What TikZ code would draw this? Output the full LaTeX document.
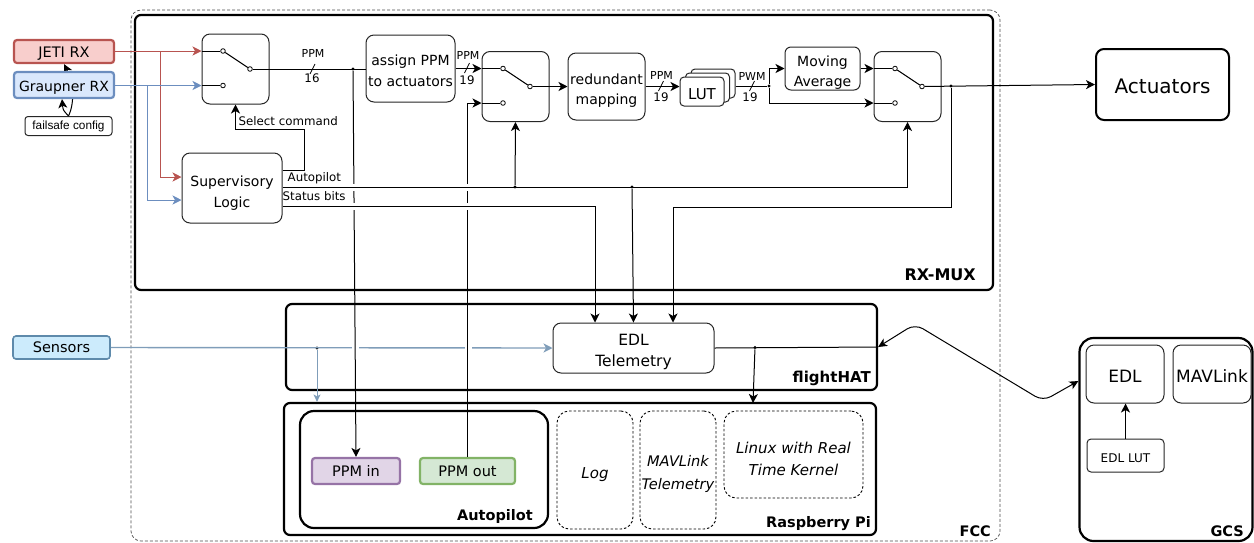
\documentclass[tikz,border=0pt]{standalone}
\usepackage{fontspec}
\setmainfont{DejaVu Sans}
\newfontfamily\arialfont{Liberation Sans}
\usetikzlibrary{arrows.meta,positioning}
\definecolor{jetiFill}{HTML}{F8CECC}
\definecolor{jetiLine}{HTML}{B85450}
\definecolor{graupFill}{HTML}{DAE8FC}
\definecolor{graupLine}{HTML}{6C8EBF}
\definecolor{sensFill}{HTML}{CCEBFC}
\definecolor{sensEdge}{HTML}{5E8AAB}
\definecolor{sensLine}{HTML}{7F9DB9}
\definecolor{pinFill}{HTML}{E1D5E7}
\definecolor{pinLine}{HTML}{9673A6}
\definecolor{poutFill}{HTML}{D5E8D4}
\definecolor{poutLine}{HTML}{82B366}
\def\fsz#1#2{\fontsize{#1}{#2}\selectfont}
\def\dn#1{\rule{0pt}{#1pt}}
\tikzset{
  tip/.style={-{Stealth[length=9pt,width=9pt,inset=2.5pt]}},
  smalltip/.style={-{Stealth[length=7.5pt,width=7pt,inset=2pt]}},
  bothtip/.style={{Stealth[length=9pt,width=8.5pt,inset=2.5pt]}-{Stealth[length=9pt,width=8.5pt,inset=2.5pt]}},
  wire/.style={line width=1pt,black},
  blockbox/.style={draw=black!85,fill=white,line width=1pt,rounded corners=8pt,inner sep=0pt,align=center},
  framebox/.style={draw=black,line width=2.2pt,rounded corners=6pt,inner sep=0pt},
  softbox/.style={draw=black,dash pattern=on 2.5pt off 2pt,line width=0.9pt,rounded corners=12pt,inner sep=0pt,align=center,font=\fsz{15}{22}\itshape},
  portbox/.style={line width=2.2pt,rounded corners=3pt,inner sep=0pt,font=\fsz{14.5}{18}},
  grouptext/.style={inner sep=0pt,anchor=south east,font=\fsz{14.5}{18}\bfseries},
  sizetext/.style={inner sep=0pt,font=\fsz{11}{13}},
  bustext/.style={inner sep=0pt,font=\fsz{11.8}{14}},
  contact/.style={circle,draw=black,fill=white,line width=0.8pt,inner sep=0pt,minimum size=4.6pt},
  junction/.style={circle,fill=black,inner sep=0pt,minimum size=3.4pt},
  gapline/.style={draw=white,line width=7pt},
}
\def\Switch#1#2#3{
    \node[blockbox,minimum width=67pt,minimum height=70pt] (#1) at (#2,#3) {};
    \node[contact] (#1-a) at ([shift={(-12.5,-18)}]#1.center) {};
    \node[contact] (#1-b) at ([shift={(-12.5,16.5)}]#1.center) {};
    \node[contact] (#1-c) at ([shift={(14.5,0)}]#1.center) {};
    \draw[wire] (#1-a) -- (#1-c);
}
\def\Tick#1#2{
    \draw[wire,line width=0.8pt] (#1-2.5,#2+5) -- (#1+2.5,#2-5);
}
\begin{document}
\begin{tikzpicture}[x=1pt,y=-1pt]
    \useasboundingbox (0,0) rectangle (1254,542);

    % containers
    \node[draw=black!70,dash pattern=on 3pt off 2pt,line width=0.7pt,rounded corners=10pt,minimum width=869pt,minimum height=531pt] (fcc) at (565.5,275.5) {};
    \node[framebox,minimum width=858pt,minimum height=275pt] (rxmux) at (564,152.5) {};
    \node[framebox,minimum width=591pt,minimum height=86pt] (flighthat) at (581.5,347) {};
    \node[framebox,minimum width=592pt,minimum height=132pt] (rpi) at (580,469) {};
    \node[framebox,rounded corners=14pt,minimum width=248pt,minimum height=117pt] (autopilot) at (424,469.5) {};
    \node[framebox,rounded corners=14pt,minimum width=173pt,minimum height=203pt] (gcs) at (1166,439.5) {};
    \node[grouptext] (rxmuxtext) at (976,281) {\fsz{16}{18}RX-MUX};
    \node[grouptext] (hattext) at (871,386) {\fsz{15}{18}flightHAT};
    \node[grouptext] (rpitext) at (871,531) {Raspberry Pi};
    \node[grouptext] (autotext) at (533,524) {Autopilot};
    \node[grouptext] (fcctext) at (991,537) {FCC};
    \node[grouptext] (gcstext) at (1244,537) {GCS};

    % blocks
    \Switch{swa}{235.5}{69}
    \Switch{swb}{515.5}{86.5}
    \Switch{swc}{907.5}{86.5}
    \node[blockbox,minimum width=100pt,minimum height=70pt,font=\fsz{14}{21}] (sup) at (232,188) {\dn{20.4}Supervisory\\Logic};
    \node[blockbox,minimum width=89pt,minimum height=67pt,font=\fsz{14}{21}] (assign) at (410.5,68.5) {\dn{15}assign PPM\\to actuators};
    \node[blockbox,minimum width=77pt,minimum height=67pt,font=\fsz{14}{20}] (redund) at (606.5,86.5) {\dn{18.6}redundant\\mapping};
    \node[blockbox,rounded corners=4pt,minimum width=44pt,minimum height=29pt] (lutc) at (713,83.5) {};
    \node[blockbox,rounded corners=4pt,minimum width=44pt,minimum height=29pt] (lutb) at (707.5,87.5) {};
    \node[blockbox,rounded corners=4pt,minimum width=44pt,minimum height=29pt,font=\fsz{15}{18}] (luta) at (702,91.5) {\dn{15.5}LUT};
    \node[blockbox,rounded corners=6pt,minimum width=75pt,minimum height=43pt,font=\fsz{14}{20}] (movavg) at (822.5,68.5) {\dn{18.2}Moving\\Average};
    \node[blockbox,draw=black,line width=2pt,minimum width=133pt,minimum height=71pt,font=\fsz{20}{24}] (act) at (1162.5,84.5) {\dn{19}Actuators};
    \node[blockbox,minimum width=161pt,minimum height=50pt,font=\fsz{15.5}{21}] (edl) at (633.5,348) {\dn{19.4}EDL\\Telemetry};
    \node[portbox,draw=pinLine,fill=pinFill,minimum width=88pt,minimum height=26pt] (pin) at (356,471) {PPM in};
    \node[portbox,draw=poutLine,fill=poutFill,minimum width=95pt,minimum height=26pt] (pout) at (467.5,471) {PPM out};
    \node[softbox,minimum width=76pt,minimum height=118pt] (log) at (595,470) {\dn{21}Log};
    \node[softbox,minimum width=76pt,minimum height=118pt,font=\fsz{14.6}{23}\itshape] (mavtel) at (678,470) {\dn{19.7}MAVLink\\Telemetry};
    \node[softbox,minimum width=139pt,minimum height=87pt] (linux) at (793.5,454.5) {\dn{19.5}Linux with Real\\Time Kernel};
    \node[blockbox,minimum width=78pt,minimum height=58pt,font=\fsz{17}{20}] (edlg) at (1125,374) {\dn{16.5}EDL};
    \node[blockbox,minimum width=78pt,minimum height=58pt,font=\fsz{17}{20}] (mavg) at (1212,374) {\dn{17}MAVLink};
    \node[blockbox,rounded corners=4pt,minimum width=77pt,minimum height=33pt,font=\fsz{12}{14}] (edllut) at (1125.5,455.5) {\dn{14.5}EDL LUT};

    % receivers
    \node[portbox,draw=jetiLine,fill=jetiFill,minimum width=100pt,minimum height=23pt] (jeti) at (64,51.5) {\dn{15.5}JETI RX};
    \node[blockbox,rounded corners=3pt,minimum width=87pt,minimum height=19pt,font=\arialfont\fsz{11.8}{14}] (fsafe) at (68.5,126) {failsafe config};
    \draw[wire,tip] (fsafe.north) .. controls (76,100) and (72,80) .. (jeti.south);
    \node[portbox,draw=graupLine,fill=graupFill,minimum width=100pt,minimum height=26pt,font=\fsz{14}{18}] (graup) at (64,85) {\dn{15.5}Graupner RX};
    \draw[wire,tip] (fsafe.north) .. controls (63,110) .. ([xshift=-2pt]graup.south);
    \node[portbox,draw=sensEdge,line width=1.6pt,fill=sensFill,minimum width=97pt,minimum height=23pt] (sens) at (61.5,347.5) {Sensors};

    % junctions
    \coordinate (jreda) at (160,51);
    \coordinate (jgrau) at (147,85);
    \node[junction] (jppm) at (353,69) {};
    \node[junction] (jbusa) at (515,187) {};
    \node[junction] (jbusb) at (632,187) {};
    \node[junction] (jpwm) at (769,86) {};
    \node[junction] (jout) at (951,86) {};
    \node[junction] (jsens) at (317,348) {};
    \node[junction] (jedl) at (755,347.5) {};

    % inputs
    \draw[jetiLine,line width=0.9pt,tip] (jeti.east|-swa-a) -- (swa.west|-swa-a);
    \draw[jetiLine,line width=0.9pt,tip] (jreda) |- (sup.west|-0,177);
    \draw[graupLine,line width=0.9pt,tip] (graup.east|-swa-b) -- (swa.west|-swa-b);
    \draw[graupLine,line width=0.9pt,tip] (jgrau) |- (sup.west|-0,200);
    \draw[wire] (swa.west|-swa-a) -- (swa-a);
    \draw[wire] (swa.west|-swa-b) -- (swa-b);

    \draw[sensLine,line width=1.4pt,tip] (sens.east) -- (edl.west);
    \draw[sensLine,line width=1pt,smalltip] (jsens) -- (jsens|-rpi.north);
    \draw[gapline] (355,345) -- (355,351);
    \draw[gapline] (468,345) -- (468,351);

    % signal path
    \draw[wire] (swa-c) -- (assign.west|-swa-c);
    \draw[wire,tip] (assign.east|-swb-a) -- (swb.west|-swb-a);
    \draw[wire] (swb.west|-swb-a) -- (swb-a);
    \draw[wire,tip] (swb-c) -- (redund.west|-swb-c);
    \draw[wire,tip] (redund.east|-swb-c) -- (luta.west|-swb-c);
    \draw[wire] (lutc.east|-jpwm) -- (jpwm);
    \coordinate (mavgin) at (jpwm|-swc-a);
    \draw[wire,tip] (jpwm) -- (mavgin) -- (movavg.west|-swc-a);
    \draw[wire,tip] (movavg.east|-swc-a) -- (swc.west|-swc-a);
    \draw[wire] (swc.west|-swc-a) -- (swc-a);
    \draw[wire,tip] (jpwm) |- (swc.west|-swc-b);
    \draw[wire] (swc.west|-swc-b) -- (swc-b);
    \draw[wire,tip] (swc-c) -- (act.west);

    % lines through the buses
    \draw[wire,tip] (jppm) -- (pin.north);
    \draw[wire,tip] (pout.north) |- (swb.west|-swb-b);
    \draw[wire] (swb.west|-swb-b) -- (swb-b);
    \draw[gapline] (349,187) -- (360,187);
    \draw[gapline] (463,187) -- (473,187);
    \draw[gapline] (349,206) -- (360,206);
    \draw[gapline] (463,206) -- (473,206);

    % buses
    \coordinate (selcorner) at (304,129);
    \draw[wire,tip] ([shift={(0,-18)}]sup.east) -| (selcorner) -| (swa.south);
    \draw[wire,tip] ([shift={(0,-1)}]sup.east) -| (swc.south);
    \draw[wire,tip] (jbusa) -- (swb.south);
    \draw[wire,tip] (jbusb) -- (edl.north);
    \draw[wire,tip] ([shift={(0,18)}]sup.east) -| ([shift={(-38.5,0)}]edl.north);
    \coordinate (outcorner) at (951,207);
    \draw[wire,tip] (jout) -- (outcorner) -| ([shift={(39.5,0)}]edl.north);

    % telemetry
    \draw[wire] (edl.east) -- (flighthat.east);
    \draw[wire,tip] (jedl) -- (753,403);
    \draw[wire,bothtip,rounded corners=9pt] (flighthat.east) -- (915,324) -- (1043,401) -- ([shift={(0,-58.5)}]gcs.west);
    \draw[wire,tip] (edllut.north) -- (edllut.north|-edlg.south);

    % labels
    \Tick{312.5}{69}
    \Tick{467}{68}
    \Tick{661}{86}
    \Tick{752}{86}
    \node[sizetext] (ppma) at (313,53.5) {PPM};
    \node[bustext] (ppmb) at (312,78.5) {16};
    \node[sizetext] (ppmc) at (468,55) {PPM};
    \node[bustext] (ppmd) at (467,80.5) {19};
    \node[sizetext] (ppme) at (661.5,75.5) {PPM};
    \node[bustext] (ppmf) at (661,97.5) {19};
    \node[sizetext] (pwma) at (752,76) {PWM};
    \node[bustext] (pwmb) at (750,97) {19};
    \node[bustext,anchor=west] (seltext) at (238.5,121) {Select command};
    \node[bustext,anchor=west] (aptext) at (287.5,178) {Autopilot};
    \node[bustext,anchor=west] (stattext) at (282.5,196) {Status bits};
\end{tikzpicture}
\end{document}
